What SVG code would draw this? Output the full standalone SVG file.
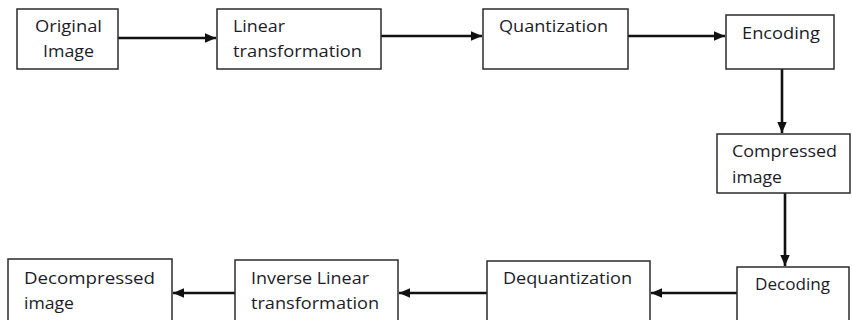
<svg xmlns="http://www.w3.org/2000/svg" width="852" height="320" viewBox="0 0 852 320">
<style>
.box{fill:#fff;stroke:#2b2b2b;stroke-width:1.5}
.t{font-family:"Open Sans","DejaVu Sans",sans-serif;font-size:16px;fill:#1c1c28}
.c{stroke:#111;stroke-width:2.6;fill:none}
</style>
<defs>
<marker id="ah" markerUnits="userSpaceOnUse" markerWidth="11" markerHeight="11" viewBox="0 0 11 11" refX="11" refY="5.5" orient="auto">
<path d="M0,0.8 L11,5.5 L0,10.2 Z" fill="#111"/>
</marker>
</defs>
<rect width="852" height="320" fill="#fff"/>
<g id="connectors">
<line class="c" x1="118" y1="38" x2="216" y2="38" marker-end="url(#ah)"/>
<line class="c" x1="381" y1="36" x2="482" y2="36" marker-end="url(#ah)"/>
<line class="c" x1="628" y1="36" x2="725" y2="36" marker-end="url(#ah)"/>
<line class="c" x1="782" y1="69" x2="782" y2="133" marker-end="url(#ah)"/>
<line class="c" x1="785" y1="193" x2="785" y2="266" marker-end="url(#ah)"/>
<line class="c" x1="737" y1="293" x2="651" y2="293" marker-end="url(#ah)"/>
<line class="c" x1="487" y1="293" x2="399" y2="293" marker-end="url(#ah)"/>
<line class="c" x1="235" y1="293" x2="173" y2="293" marker-end="url(#ah)"/>
</g>
<g id="original">
<rect class="box" x="17" y="9" width="101" height="60"/>
<text class="t" x="35" y="32" textLength="67" lengthAdjust="spacingAndGlyphs">Original</text>
<text class="t" x="43" y="57" textLength="51" lengthAdjust="spacingAndGlyphs">Image</text>
</g>
<g id="linear">
<rect class="box" x="217" y="9" width="164" height="60"/>
<text class="t" x="233" y="32" textLength="52" lengthAdjust="spacingAndGlyphs">Linear</text>
<text class="t" x="233" y="57" textLength="129" lengthAdjust="spacingAndGlyphs">transformation</text>
</g>
<g id="quantization">
<rect class="box" x="483" y="9" width="145" height="60"/>
<text class="t" x="499" y="32" textLength="109" lengthAdjust="spacingAndGlyphs">Quantization</text>
</g>
<g id="encoding">
<rect class="box" x="726" y="15" width="108" height="54"/>
<text class="t" x="742" y="39" textLength="78" lengthAdjust="spacingAndGlyphs">Encoding</text>
</g>
<g id="compressed">
<rect class="box" x="717" y="134" width="133" height="59"/>
<text class="t" x="732" y="157" textLength="105" lengthAdjust="spacingAndGlyphs">Compressed</text>
<text class="t" x="732" y="183" textLength="50" lengthAdjust="spacingAndGlyphs">image</text>
</g>
<g id="decoding">
<rect class="box" x="737" y="267" width="112" height="70"/>
<text class="t" x="755" y="290" textLength="75" lengthAdjust="spacingAndGlyphs">Decoding</text>
</g>
<g id="dequantization">
<rect class="box" x="487" y="261" width="163" height="76"/>
<text class="t" x="503" y="284" textLength="129" lengthAdjust="spacingAndGlyphs">Dequantization</text>
</g>
<g id="inverse">
<rect class="box" x="235" y="260" width="163" height="77"/>
<text class="t" x="251" y="284" textLength="118" lengthAdjust="spacingAndGlyphs">Inverse Linear</text>
<text class="t" x="251" y="309" textLength="128" lengthAdjust="spacingAndGlyphs">transformation</text>
</g>
<g id="decompressed">
<rect class="box" x="8" y="259" width="164" height="78"/>
<text class="t" x="24" y="284" textLength="131" lengthAdjust="spacingAndGlyphs">Decompressed</text>
<text class="t" x="24" y="309" textLength="50" lengthAdjust="spacingAndGlyphs">image</text>
</g>
</svg>
